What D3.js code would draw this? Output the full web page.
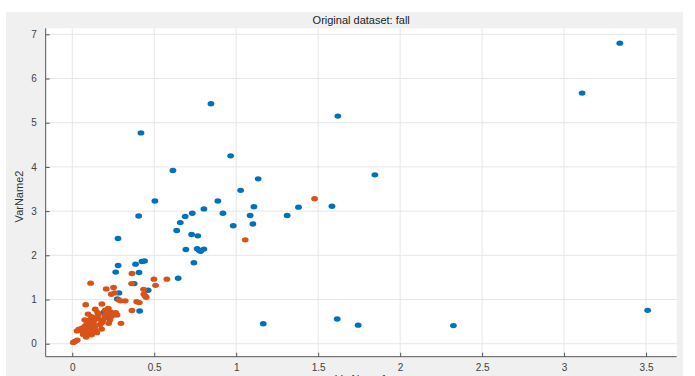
<!DOCTYPE html>
<html><head><meta charset="utf-8">
<script src="https://cdn.jsdelivr.net/npm/d3@7"></script>
<style>body{margin:0;background:#fff;}svg{display:block;font-family:"Liberation Sans",Arial,sans-serif;}</style>
</head><body>
<svg id="c" width="695" height="376"></svg>
<script>
const title = "Original dataset: fall";
const xLabel = "VarName1";
const yLabel = "VarName2";
const xTicks = [0, 0.5, 1, 1.5, 2, 2.5, 3, 3.5];
const yTicks = [0, 1, 2, 3, 4, 5, 6, 7];

const blueX = [3.34,3.51,3.11,2.325,1.744,1.165,1.616,1.62,1.846,1.38,1.311,1.584,
 0.846,0.966,0.614,1.134,1.027,0.504,0.888,0.803,1.108,0.732,0.689,0.919,1.085,0.659,1.102,0.982,0.637,0.728,0.766,0.693,0.762,0.783,0.803,0.775,
 0.419,0.405,0.279,0.742,0.441,0.425,0.280,0.386,0.265,0.407,0.646,0.378,0.463,0.285,0.275,0.193,0.411,0.212,0.204];
const blueY = [6.80,0.755,5.67,0.41,0.42,0.45,0.56,5.15,3.82,3.09,2.90,3.11,
 5.43,4.25,3.92,3.73,3.47,3.23,3.23,3.05,3.10,2.95,2.88,2.95,2.90,2.74,2.71,2.67,2.56,2.47,2.44,2.13,2.15,2.09,2.14,2.11,
 4.77,2.89,2.38,1.83,1.87,1.86,1.77,1.80,1.62,1.61,1.48,1.36,1.21,1.15,1.01,0.71,0.74,0.60,0.63];

const orangeX = [1.478,1.055,
 0.364,0.498,0.577,0.362,0.508,0.112,0.207,0.252,0.435,
 0.238,0.259,0.437,0.451,0.445,
 0.295,0.323,0.285,0.393,0.409,
 0.082,0.181,0.140,0.201,0.220,0.234,0.273,0.364,0.297,
 0.096,0.118,0.076,0.145,0.161,0.181,0.222,0.187,0.230,
 0.041,0.029,0.067,0.104,0.091,0.108,0.094,0.067,0.118,0.179,0.016,0.006,0.030,0.108,0.088,
 0.100,0.120,0.130,0.075,0.055,0.085,0.150,0.200,0.160,0.130,0.110,0.240,0.205,0.265,0.155,0.100,0.125,0.135,0.170,0.060,0.140,0.110,0.080,0.095];
const orangeY = [3.28,2.35,
 1.59,1.46,1.46,1.36,1.32,1.37,1.24,1.27,1.23,
 1.12,1.15,1.12,1.05,1.08,
 0.97,0.97,0.99,0.95,0.93,
 0.88,0.90,0.78,0.76,0.80,0.72,0.65,0.75,0.46,
 0.67,0.61,0.54,0.59,0.56,0.48,0.46,0.53,0.54,
 0.33,0.29,0.27,0.42,0.35,0.31,0.24,0.21,0.20,0.33,0.05,0.03,0.08,0.40,0.44,
 0.30,0.36,0.45,0.38,0.30,0.15,0.25,0.62,0.66,0.52,0.55,0.62,0.68,0.70,0.70,0.48,0.25,0.38,0.43,0.35,0.32,0.28,0.40,0.26];

const svg = d3.select("#c");
const W = 695, H = 376;
const m = {left: 45.7, right: 676.7, top: 28.3, bottom: 356.7};

svg.append("rect").attr("x", 6).attr("y", 12).attr("width", 677).attr("height", H - 12).attr("fill", "#f0f0f0");
svg.append("rect").attr("x", m.left).attr("y", m.top).attr("width", m.right - m.left).attr("height", m.bottom - m.top).attr("fill", "#ffffff");

const x = d3.scaleLinear().domain([-0.162, 3.687]).range([m.left, m.right]);
const y = d3.scaleLinear().domain([-0.294, 7.136]).range([m.bottom, m.top]);

// grid
const g = svg.append("g");
g.selectAll(".gx").data(xTicks).join("line")
  .attr("x1", d => x(d)).attr("x2", d => x(d)).attr("y1", m.top).attr("y2", m.bottom)
  .attr("stroke", "#e6e6e6").attr("stroke-width", 1);
g.selectAll(".gy").data(yTicks).join("line")
  .attr("y1", d => y(d)).attr("y2", d => y(d)).attr("x1", m.left).attr("x2", m.right)
  .attr("stroke", "#e6e6e6").attr("stroke-width", 1);

// points
const blue = blueX.map((v, i) => [v, blueY[i]]);
const orange = orangeX.map((v, i) => [v, orangeY[i]]);
svg.append("g").selectAll("ellipse").data(blue).join("ellipse")
  .attr("cx", d => x(d[0])).attr("cy", d => y(d[1])).attr("rx", 3.4).attr("ry", 2.7)
  .attr("fill", "#0072BD");
svg.append("g").selectAll("ellipse").data(orange).join("ellipse")
  .attr("cx", d => x(d[0])).attr("cy", d => y(d[1])).attr("rx", 3.4).attr("ry", 2.7)
  .attr("fill", "#D95319");

// axes
const xAxis = d3.axisBottom(x).tickValues(xTicks).tickSizeInner(-4).tickSizeOuter(0).tickPadding(7).tickFormat(d3.format("~g"));
const yAxis = d3.axisLeft(y).tickValues(yTicks).tickSizeInner(-4).tickSizeOuter(0).tickPadding(9).tickFormat(d3.format("~g"));
const gx = svg.append("g").attr("transform", `translate(0,${m.bottom})`).call(xAxis);
const gy = svg.append("g").attr("transform", `translate(${m.left},0)`).call(yAxis);
[gx, gy].forEach(a => {
  a.select(".domain").attr("stroke", "#555").attr("stroke-width", 1);
  a.selectAll(".tick line").attr("stroke", "#555");
  a.selectAll(".tick text").attr("fill", "#404040").attr("font-size", 10).attr("font-family", "Liberation Sans, Arial, sans-serif");
});
gx.select(".domain").attr("d", `M${m.left},0H${m.right}`);
gy.select(".domain").attr("d", `M0,${m.bottom}V${m.top}`);

// texts
svg.append("text").attr("x", (m.left + m.right) / 2).attr("y", 24).attr("text-anchor", "middle")
  .attr("font-size", 11).attr("fill", "#222").text(title);
svg.append("text").attr("transform", `translate(23,${(m.top + m.bottom) / 2 + 4}) rotate(-90)`)
  .attr("text-anchor", "middle").attr("font-size", 11).attr("fill", "#333").text(yLabel);
svg.append("text").attr("x", (m.left + m.right) / 2).attr("y", 383).attr("text-anchor", "middle")
  .attr("font-size", 11).attr("fill", "#333").text(xLabel);
</script>
</body></html>
